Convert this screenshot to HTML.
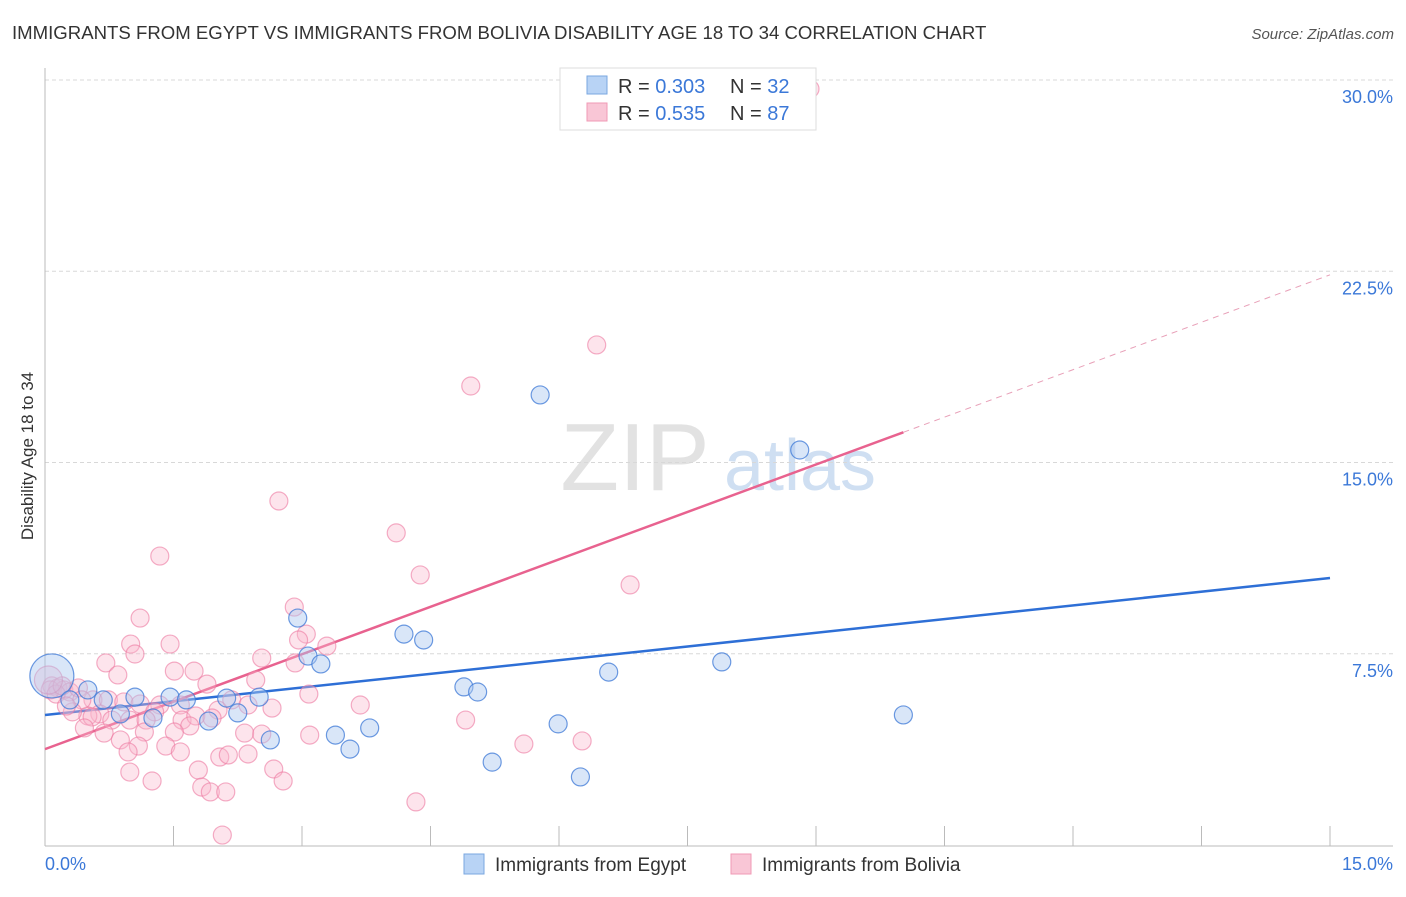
<!DOCTYPE html>
<html><head><meta charset="utf-8"><style>
body{margin:0;background:#fff;font-family:"Liberation Sans",sans-serif}
svg text{font-family:"Liberation Sans",sans-serif}
</style></head><body>
<svg id="chart" width="1406" height="892" xmlns="http://www.w3.org/2000/svg">
<text x="12" y="39" font-size="18.6" fill="#333">IMMIGRANTS FROM EGYPT VS IMMIGRANTS FROM BOLIVIA DISABILITY AGE 18 TO 34 CORRELATION CHART</text>
<text x="1394" y="39" font-size="15" fill="#555" text-anchor="end" font-style="italic">Source: ZipAtlas.com</text>
<text transform="translate(33,456) rotate(-90)" font-size="17" fill="#333" text-anchor="middle">Disability Age 18 to 34</text>
<g><text x="635" y="490" font-size="96" fill="#e2e2e2" font-family="Liberation Serif" text-anchor="middle">ZIP</text><text x="800" y="490" font-size="72" fill="#cfdff2" text-anchor="middle">atlas</text></g>
<g id="grid"></g><g id="axes"></g><g id="lines"></g><g id="pts"></g>
<g>
<rect x="560" y="68" width="256" height="62" fill="#fff" stroke="#ddd"/>
<rect x="587" y="76" width="20" height="18" fill="#b8d3f5" stroke="#7aa7e0"/>
<text x="618" y="93" font-size="20" fill="#333">R = <tspan fill="#3b78d8">0.303</tspan></text>
<text x="730" y="93" font-size="20" fill="#333">N = <tspan fill="#3b78d8">32</tspan></text>
<rect x="587" y="103" width="20" height="18" fill="#f9c6d6" stroke="#f09ab5"/>
<text x="618" y="120" font-size="20" fill="#333">R = <tspan fill="#3b78d8">0.535</tspan></text>
<text x="730" y="120" font-size="20" fill="#333">N = <tspan fill="#3b78d8">87</tspan></text>
</g>
<g>
<rect x="464" y="854" width="20" height="20" fill="#b8d3f5" stroke="#7aa7e0"/>
<text x="495" y="871" font-size="19" fill="#333">Immigrants from Egypt</text>
<rect x="731" y="854" width="20" height="20" fill="#f9c6d6" stroke="#f09ab5"/>
<text x="762" y="871" font-size="19" fill="#333">Immigrants from Bolivia</text>
</g>
</svg>
<script>
const yTicks=[7.5,15,22.5,30];
const yTickLabels=["7.5%","15.0%","22.5%","30.0%"];
const xTickLabels=["0.0%","15.0%"];
const egyptX=[0.08,0.50,0.68,1.05,1.26,1.46,1.65,1.91,2.12,2.25,2.50,2.63,2.95,3.07,3.22,3.39,3.56,3.79,4.19,4.42,4.89,5.05,5.22,5.78,5.99,6.25,6.58,7.90,8.81,10.02,0.88,0.29];
const egyptY=[6.63,6.08,5.69,5.80,4.98,5.80,5.69,4.86,5.76,5.18,5.80,4.12,8.90,7.41,7.10,4.31,3.76,4.59,8.27,8.04,6.20,6.00,3.25,17.65,4.75,2.67,6.78,7.18,15.49,5.10,5.14,5.69];
const boliviaX=[8.93,6.44,4.97,2.73,4.10,1.34,4.38,6.83,1.11,2.91,3.05,2.96,1.00,1.46,3.29,1.05,2.53,0.71,2.92,1.51,1.74,0.85,2.46,1.89,0.08,0.15,0.22,0.06,0.29,0.39,0.13,0.20,0.04,3.08,0.56,0.74,0.92,1.11,1.34,1.58,2.02,2.18,2.37,2.65,1.28,0.64,0.50,0.78,0.55,0.99,1.60,1.76,1.95,1.18,1.69,0.46,0.69,1.51,1.16,0.88,2.33,2.53,3.09,3.68,4.91,1.09,1.41,1.58,0.97,1.79,0.99,1.25,2.04,2.37,2.14,2.67,2.78,1.83,1.93,2.11,4.33,5.59,6.27,2.07,0.43,0.32,0.25];
const boliviaY=[29.65,19.61,18.0,13.49,12.24,11.33,10.59,10.20,8.90,9.33,8.27,8.04,7.88,7.88,7.80,7.49,7.33,7.14,7.14,6.82,6.82,6.67,6.47,6.31,6.24,6.16,6.08,6.08,6.00,6.16,5.92,6.24,6.47,5.92,5.69,5.69,5.61,5.53,5.49,5.49,5.29,5.69,5.49,5.37,5.22,5.14,5.06,4.90,5.02,4.90,4.90,5.06,4.98,4.90,4.67,4.59,4.39,4.43,4.43,4.12,4.39,4.35,4.31,5.49,4.90,3.88,3.88,3.65,3.65,2.94,2.86,2.51,3.45,3.57,3.53,2.98,2.51,2.27,2.08,2.08,1.69,3.96,4.08,0.39,5.69,5.22,5.45];
const egyptTrend=[5.10,10.47];
const boliviaTrend=[3.76,1.24];
const NS="http://www.w3.org/2000/svg";
const xs=v=>45+v*1285/15, ys=v=>845-v*25.5;
function mk(p,t,a){const e=document.createElementNS(NS,t);for(const k in a)e.setAttribute(k,a[k]);p.appendChild(e);return e;}
const grid=document.getElementById('grid'),axes=document.getElementById('axes'),lines=document.getElementById('lines'),pts=document.getElementById('pts');
yTicks.forEach((v,i)=>{
 const l=mk(grid,'line',{x1:45,x2:1393,y1:ys(v),y2:ys(v),stroke:'#d8d8d8','stroke-dasharray':'4,3'});
 
 
 const t=mk(axes,'text',{x:1393,y:ys(v)+23,'font-size':18,fill:'#3b78d8','text-anchor':'end'});t.textContent=yTickLabels[i];
 
 
});
let a=mk(axes,'line',{x1:45,x2:45,y1:68,y2:846,stroke:'#bbb'});


a=mk(axes,'line',{x1:45,x2:1393,y1:846,y2:846,stroke:'#bbb'});


for(let i=0;i<=10;i++){const x=xs(i*1.5);const t=mk(axes,'line',{x1:x,x2:x,y1:826,y2:846,stroke:'#bbb'});
 
 }
[[0,'start',45],[1,'end',1393]].forEach(([i,an,x])=>{const t=mk(axes,'text',{x:x,y:870,'font-size':18,fill:'#3b78d8','text-anchor':an});t.textContent=xTickLabels[i];
 
 });
let L=mk(lines,'line',{x1:xs(0),y1:ys(egyptTrend[0]),x2:xs(15),y2:ys(egyptTrend[1]),stroke:'#2e6fd6','stroke-width':2.5});


const xe=Math.max(...egyptX);
L=mk(lines,'line',{x1:xs(0),y1:ys(boliviaTrend[0]),x2:xs(xe),y2:ys(boliviaTrend[0]+boliviaTrend[1]*xe),stroke:'#e8628f','stroke-width':2.5});


L=mk(lines,'line',{x1:xs(xe),y1:ys(boliviaTrend[0]+boliviaTrend[1]*xe),x2:xs(15),y2:ys(boliviaTrend[0]+boliviaTrend[1]*15),stroke:'#e8a0b8','stroke-width':1,'stroke-dasharray':'6,5'});


boliviaX.forEach((v,i)=>{const c=mk(pts,'circle',{cx:xs(v),cy:ys(boliviaY[i]),r:i===32?14:9,fill:'rgba(249,185,205,0.38)',stroke:'rgba(236,120,160,0.6)','stroke-width':1.2});
 
 });
egyptX.forEach((v,i)=>{const c=mk(pts,'circle',{cx:xs(v),cy:ys(egyptY[i]),r:i===0?22:9,fill:'rgba(170,200,240,0.45)',stroke:'rgba(60,120,215,0.75)','stroke-width':1.2});
 
 });
</script>
</body></html>
